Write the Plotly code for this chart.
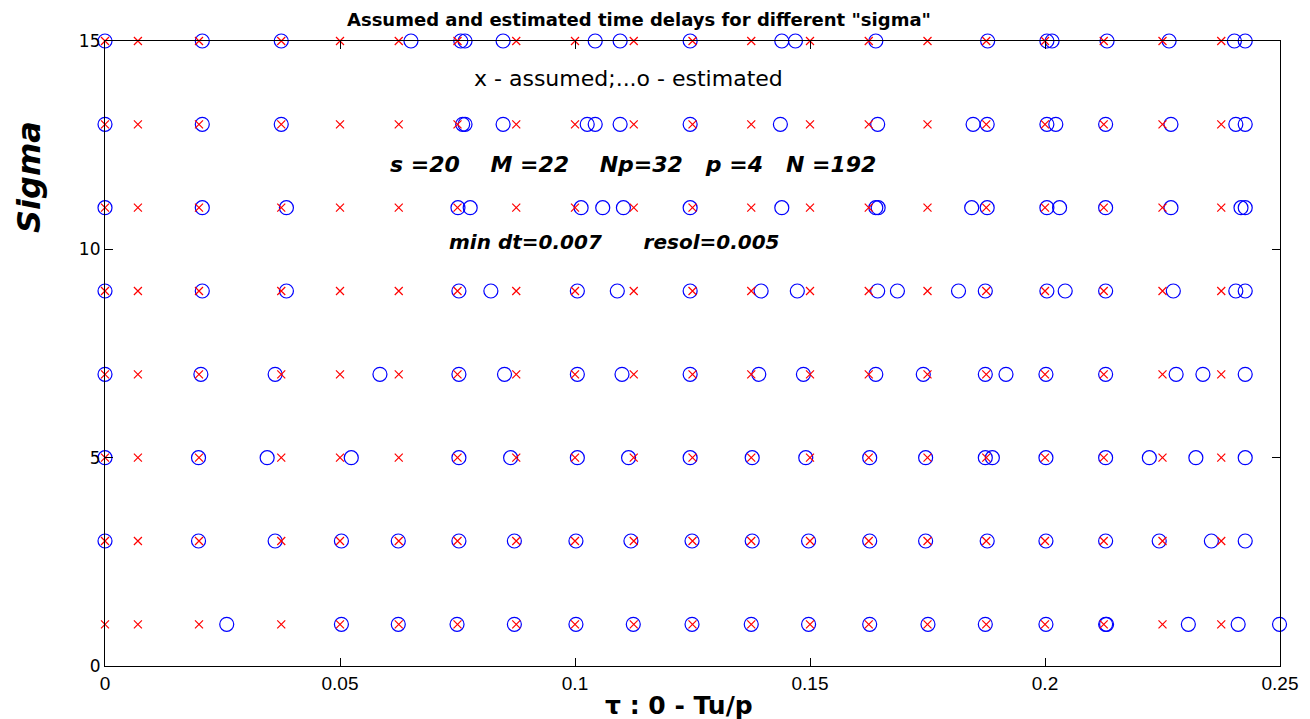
import plotly.graph_objects as go

# ---------------- data ----------------
sigma_levels = [1, 3, 5, 7, 9, 11, 13, 15]

assumed_delays = [0.0, 0.007, 0.02, 0.0375, 0.05, 0.0625, 0.075, 0.0875, 0.1, 0.1125,
                  0.125, 0.1375, 0.15, 0.1625, 0.175, 0.1875, 0.2, 0.2125, 0.225, 0.2375]

est_sigma_1 = [0.0259, 0.0503, 0.0624, 0.0749, 0.0871, 0.1002, 0.1124, 0.1249, 0.1375, 0.1497,
               0.1627, 0.1751, 0.1873, 0.2002, 0.2129, 0.2131, 0.2305, 0.2411, 0.2499]
est_sigma_3 = [0.0, 0.0199, 0.0362, 0.0503, 0.0624, 0.0753, 0.0871, 0.1002, 0.1119, 0.1249,
               0.1377, 0.1497, 0.1627, 0.1746, 0.1877, 0.2002, 0.2129, 0.2243, 0.2354, 0.2426]
est_sigma_5 = [0.0, 0.0199, 0.0345, 0.0524, 0.0753, 0.0863, 0.1005, 0.1114, 0.1245, 0.1377,
               0.1491, 0.1627, 0.1746, 0.1873, 0.1888, 0.2002, 0.2129, 0.2222, 0.2321, 0.2426]
est_sigma_7 = [0.0, 0.0204, 0.0362, 0.0585, 0.0753, 0.0850, 0.1005, 0.1100, 0.1245, 0.1391,
               0.1486, 0.1640, 0.1741, 0.1873, 0.1917, 0.2002, 0.2129, 0.2279, 0.2336, 0.2426]
est_sigma_9 = [0.0, 0.0207, 0.0386, 0.0753, 0.0821, 0.1005, 0.1090, 0.1245, 0.1396, 0.1473,
               0.1644, 0.1686, 0.1816, 0.1873, 0.2004, 0.2043, 0.2129, 0.2273, 0.2406, 0.2426]
est_sigma_11 = [0.0, 0.0207, 0.0386, 0.0751, 0.0777, 0.1013, 0.1059, 0.1103, 0.1245, 0.1440,
                0.1640, 0.1645, 0.1844, 0.1877, 0.2004, 0.2031, 0.2129, 0.2268, 0.2417, 0.2426]
est_sigma_13 = [0.0, 0.0207, 0.0375, 0.0761, 0.0766, 0.0847, 0.1026, 0.1043, 0.1096, 0.1245,
                0.1437, 0.1644, 0.1847, 0.1877, 0.2004, 0.2023, 0.2129, 0.2268, 0.2406, 0.2426]
est_sigma_15 = [0.0, 0.0207, 0.0375, 0.0651, 0.0757, 0.0766, 0.0847, 0.1043, 0.1096, 0.1245,
                0.1440, 0.1469, 0.1640, 0.1878, 0.2004, 0.2015, 0.2132, 0.2264, 0.2403, 0.2426]

estimated_by_sigma = [est_sigma_1, est_sigma_3, est_sigma_5, est_sigma_7,
                      est_sigma_9, est_sigma_11, est_sigma_13, est_sigma_15]

x_ticks = [0, 0.05, 0.1, 0.15, 0.2, 0.25]
x_tick_labels = ["0", "0.05", "0.1", "0.15", "0.2", "0.25"]
y_ticks = [0, 5, 10, 15]
y_tick_labels = ["0", "5", "10", "15"]

# ---------------- build ----------------
est_x, est_y = [], []
for s, vals in zip(sigma_levels, estimated_by_sigma):
    est_x += vals
    est_y += [s] * len(vals)

ass_x, ass_y = [], []
for s in sigma_levels:
    ass_x += assumed_delays
    ass_y += [s] * len(assumed_delays)

fig = go.Figure()
fig.add_trace(go.Scatter(
    x=est_x, y=est_y, mode="markers", cliponaxis=False, showlegend=False,
    marker=dict(symbol="circle-open", size=14, color="#0000ff", line=dict(width=1.2, color="#0000ff")),
))
fig.add_trace(go.Scatter(
    x=ass_x, y=ass_y, mode="markers", cliponaxis=False, showlegend=False,
    marker=dict(symbol="x-thin", size=8, color="#ff0000", line=dict(width=1.2, color="#ff0000")),
))

L, R, T, B = 105, 30, 41, 53
PW, PH = 1310 - L - R, 719 - T - B


def px(xp):
    return (xp - L) / PW


def py(yp):
    return (719 - B - yp) / PH


fig.update_layout(
    width=1310, height=719,
    margin=dict(l=L, r=R, t=T, b=B),
    paper_bgcolor="white", plot_bgcolor="white",
    font=dict(family="Liberation Sans, Arial", color="black"),
    xaxis=dict(
        range=[0, 0.25], tickvals=x_ticks, ticktext=x_tick_labels,
        showgrid=False, zeroline=False, showline=True, linecolor="black", linewidth=1.2,
        mirror="allticks", ticks="inside", ticklen=8, tickcolor="black", tickwidth=1,
        ticklabelstandoff=0,
        tickfont=dict(family="Liberation Sans, Arial", size=19),
    ),
    yaxis=dict(
        range=[0, 15], tickvals=y_ticks, ticktext=y_tick_labels,
        showgrid=False, zeroline=False, showline=True, linecolor="black", linewidth=1.2,
        mirror="allticks", ticks="inside", ticklen=8, tickcolor="black", tickwidth=1,
        tickfont=dict(family="DejaVu Sans", size=17),
    ),
)

# title
fig.add_annotation(text="<b>Assumed and estimated time delays for different \"sigma\"</b>",
                   xref="paper", yref="paper", x=px(639), y=py(20),
                   xanchor="center", yanchor="middle", showarrow=False,
                   font=dict(size=18, family="DejaVu Sans"))
# axis titles
fig.add_annotation(text="<b>τ : 0 - Tu/p</b>",
                   xref="paper", yref="paper", x=px(679), y=py(705),
                   xanchor="center", yanchor="middle", showarrow=False,
                   font=dict(size=25, family="DejaVu Sans"))
fig.add_annotation(text="<b><i>Sigma</i></b>", textangle=-90,
                   xref="paper", yref="paper", x=px(29), y=py(177),
                   xanchor="center", yanchor="middle", showarrow=False,
                   font=dict(size=32, family="DejaVu Sans"))
# in-plot texts
fig.add_annotation(text="x - assumed;...o - estimated",
                   xref="paper", yref="paper", x=px(628), y=py(79),
                   xanchor="center", yanchor="middle", showarrow=False,
                   font=dict(size=22, family="DejaVu Sans"))
fig.add_annotation(text="<b><i>s =20    M =22    Np=32   p =4   N =192</i></b>",
                   xref="paper", yref="paper", x=px(633), y=py(164),
                   xanchor="center", yanchor="middle", showarrow=False,
                   font=dict(size=22, family="DejaVu Sans"))
fig.add_annotation(text="<b><i>min dt=0.007      resol=0.005</i></b>",
                   xref="paper", yref="paper", x=px(614), y=py(242),
                   xanchor="center", yanchor="middle", showarrow=False,
                   font=dict(size=20, family="DejaVu Sans"))

fig.write_html("out.html")
